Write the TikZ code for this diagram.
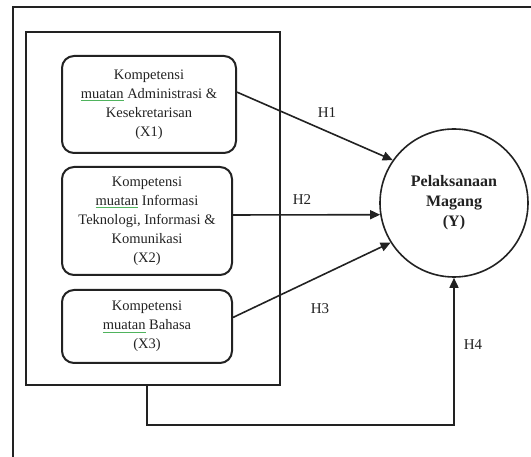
\documentclass[tikz,border=0pt]{standalone}
\usepackage{fontspec}
\setmainfont{Liberation Serif}
\usepackage{tikz}
\usetikzlibrary{arrows.meta,calc,positioning}
\definecolor{ink}{HTML}{222222}
\definecolor{spell}{HTML}{4FB35D}
\newcommand{\squig}[1]{\setbox0\hbox{#1}\rlap{\textcolor{spell}{\rule[-3pt]{\wd0}{0.9pt}}}#1}

\begin{document}
\begin{tikzpicture}[x=1pt,y=-1pt,
  frame/.style={draw=ink,line width=2pt},
  var/.style={draw=ink,line width=2pt,rounded corners=12pt,align=center,inner sep=0pt,
    font=\fontsize{14.5}{19}\selectfont,text=ink},
  dep/.style={draw=ink,line width=1.6pt,circle,minimum size=148pt,inner sep=0pt,align=center,
    font=\fontsize{16}{20}\selectfont\bfseries,text=ink},
  hyp/.style={font=\fontsize{15}{18}\selectfont,text=ink},
  arr/.style={-{Triangle[length=10pt,width=9pt]},line width=1.6pt,ink}]
  \useasboundingbox (0,0) rectangle (531,457);
  \draw[frame] (13,457) |- (531,7);
  \node[frame,minimum width=254pt,minimum height=353pt,inner sep=0pt] (grp) at (153,208.5) {};
  \node[var,minimum width=174pt,minimum height=97pt] (x1) at (149,104.5)
    {Kompetensi\\\squig{muatan} Administrasi \&\\Kesekretarisan\\(X1)};
  \node[var,minimum width=170pt,minimum height=108pt] (x2) at (147,221)
    {Kompetensi\\\squig{muatan} Informasi\\Teknologi, Informasi \&\\Komunikasi\\(X2)};
  \node[var,minimum width=170pt,minimum height=73pt] (x3) at (147,326.5)
    {Kompetensi\\\squig{muatan} Bahasa\\(X3)};
  \node[dep] (y) at (454,203) {\raisebox{-6pt}{\begin{tabular}{@{}c@{}}Pelaksanaan\\Magang\\(Y)\end{tabular}}};
  \coordinate (bend) at (147,425);
  \draw[arr] (x1.8) -- (y.145);
  \draw[arr] (x2.4) -- (y.189);
  \draw[arr] (x3.6) -- (y.212);
  \draw[arr] (bend |- grp.south) -- (bend) -| (y.south);
  \node[hyp] (h1) at (327,113) {H1};
  \node[hyp] (h2) at (302,200) {H2};
  \node[hyp] (h3) at (320,309) {H3};
  \node[hyp] (h4) at (473,345) {H4};
\end{tikzpicture}
\end{document}
